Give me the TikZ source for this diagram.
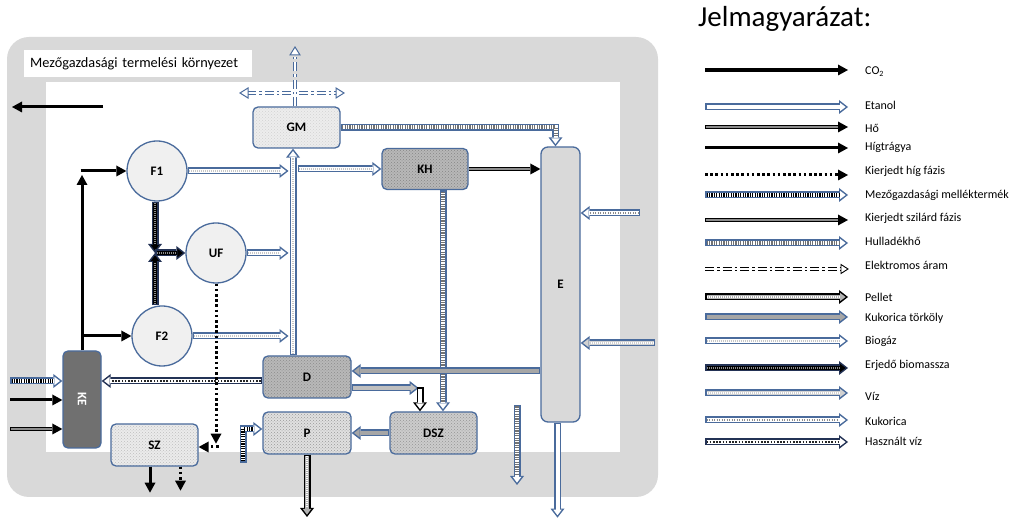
\documentclass[tikz,border=0pt]{standalone}
\usepackage{fontspec}
\usepackage{graphicx}
\setmainfont{Carlito}
\usetikzlibrary{arrows.meta,patterns,calc}
\definecolor{bl}{RGB}{74,107,156}
\definecolor{frm}{RGB}{217,217,217}
\definecolor{navy}{RGB}{35,50,85}
\tikzset{
 pipeO/.style={line width=7pt, draw=#1, -{Triangle[length=9pt,width=14pt,line width=0pt]}},
 pipeI/.style={line width=4pt, draw=#1, shorten <=1.5pt, shorten >=2.4pt, -{Triangle[length=5.6pt,width=8.5pt,line width=0pt]}},
 pipeS/.style={line width=4pt, shorten <=1.5pt, shorten >=9pt},
 sK/.style={draw=black, dash pattern=on 1.2pt off 1.2pt},
 sG/.style={draw=black!55, dash pattern=on 1.2pt off 1.2pt},
 sL/.style={draw=black!22, dash pattern=on 0.8pt off 1.2pt, line width=2.4pt},
 sC/.style={draw=black!85, dash pattern=on 1.6pt off 1.6pt, line width=2.6pt},
 sX/.style={draw=black!45, dash pattern=on 1pt off 1.5pt, line width=2.4pt},
 sE/.style={draw=black!45, dash pattern=on 1pt off 1pt, line width=2pt},
 sP/.style={draw=white, dash pattern=on 0.8pt off 1.2pt, line width=1.5pt},
 sW/.style={draw=white, dash pattern=on 1pt off 1pt, line width=1.2pt},
 sN/.style={draw=none},
 blk/.style={line width=3pt, draw=black, -{Triangle[length=10pt,width=11pt,line width=0pt]}},
 dblk/.style={blk, dash pattern=on 2.6pt off 2.6pt},
 elec/.style={draw=#1, line width=1.1pt, double=white, double distance=2.4pt, dash pattern=on 9pt off 3pt on 2.5pt off 3pt},
 box/.style={draw=bl, line width=1.3pt, rounded corners=5pt, inner sep=0pt, font=\bfseries\fontsize{13}{15}\selectfont},
 circ/.style={circle, draw=bl, line width=1.3pt, fill=black!6, minimum size=60pt, inner sep=0pt, font=\bfseries\fontsize{13}{15}\selectfont},
 leg/.style={anchor=west, inner sep=0pt, font=\fontsize{12}{14}\selectfont},
}
\newcommand\pipe[4]{\draw[pipeO=#1] #4; \draw[pipeI=#2] #4; \draw[pipeS,#3] #4;}
\newcommand\hoarr[1]{\draw[blk,line width=4.5pt] #1; \draw[line width=1.4pt, draw=black!45, shorten <=0.5pt, shorten >=10pt] #1;}
\newcommand\legcoords[2]{\coordinate (La#1) at (705,#2); \coordinate (Lb#1) at (848,#2);}
\begin{document}
\begin{tikzpicture}[x=1pt,y=-1pt]
\useasboundingbox (0,0) rectangle (1018,518);
% frame
\fill[frm, rounded corners=22pt] (7,37) rectangle (658,497);
\fill[white] (46,82) rectangle (620,452);
\node[fill=white, anchor=north west, minimum height=27pt, text width=216pt, inner xsep=6pt, font=\fontsize{14.3}{16}\selectfont] (envlabel) at (24,50) {Mezőgazdasági termelési környezet};

% nodes
\node[box, minimum width=87pt, minimum height=41pt, preaction={fill=black!7}, pattern=crosshatch dots, pattern color=black!18] (GM) at (296.5,127.5) {GM};
\node[box, minimum width=86pt, minimum height=41pt, preaction={fill=black!28}, pattern=crosshatch dots, pattern color=black!48] (KH) at (425,169) {KH};
\node[box, rounded corners=7pt, fill=frm, minimum width=39pt, minimum height=275pt] (E) at (560.5,284.5) {E};
\node[circ] (F1) at (157,171) {F1};
\node[circ] (UF) at (216,253) {UF};
\node[circ] (F2) at (162,336) {F2};
\node[box, fill=black!56, text=white, minimum width=38pt, minimum height=97pt] (KE) at (82,399.5) {\rotatebox{-90}{KE}};
\node[box, minimum width=88pt, minimum height=42pt, preaction={fill=black!28}, pattern=crosshatch dots, pattern color=black!45] (D) at (307,377) {D};
\node[box, minimum width=88pt, minimum height=42pt, preaction={fill=black!12}, pattern=crosshatch dots, pattern color=black!40] (P) at (307,433) {P};
\node[box, minimum width=87pt, minimum height=42pt, preaction={fill=black!20}, pattern=crosshatch dots, pattern color=black!42] (DSZ) at (433.5,433) {DSZ};
\node[box, minimum width=87pt, minimum height=42pt, preaction={fill=black!8}, pattern=crosshatch dots, pattern color=black!25] (SZ) at (154.5,445) {SZ};

% helper coordinates
\coordinate (pL) at (288.5,0);
\coordinate (pR) at (297.5,0);
\coordinate (jn) at (155,253);
\coordinate (co0) at (103,107);
\coordinate (co1) at (12,107);
\coordinate (kin) at (640,213);
\coordinate (vin) at (655,343);
\coordinate (m0) at (10,381);
\coordinate (h0) at (10,400);
\coordinate (k0) at (10,429);
\coordinate (pl0) at (243,463);
\coordinate (hf0) at (517,405);
\coordinate (hf1) at (517,485);
\coordinate (pbot) at (307,517);

% CO2 out
\draw[blk] (co0) -- (co1);

% Higtragya from KE
\draw[blk] (KE.north) -- ($(KE.north |- F1.west)+(0,4)$);
\draw[blk] ($(KE.north |- F1.west)+(-1.5,0)$) -- (F1.west);
\draw[blk] (KE.north |- F2.west) -- (F2.west);

% Erjedo biomassza
\pipe{navy}{black}{sE}{(F1.south -| jn) -- (jn)}
\pipe{navy}{black}{sE}{(jn |- F2.north) -- (jn)}
\pipe{navy}{black}{sE}{(jn) -- (UF.west)}

% biogas / ethanol lines to the vertical pipe
\pipe{bl}{white}{sL}{(F1.east) -- (F1.east -| pL)}
\pipe{bl}{white}{sL}{(KH.west -| pR) -- (KH.west)}
\pipe{bl}{white}{sL}{(UF.east) -- (UF.east -| pL)}
\pipe{bl}{white}{sL}{(F2.east) -- (F2.east -| pL)}
\pipe{bl}{white}{sL}{($(D.north)+(-14,0)$) -- ($(GM.south)+(-3.5,0)$)}

% electricity from GM
\draw[elec=bl] ($(GM.north)+(-1.5,0)$) -- (295,54);
\draw[bl, line width=1pt, fill=white] (290,55) -- (295,47) -- (300,55) -- cycle;
\draw[elec=bl] (291,93) -- (248,93);
\draw[bl, line width=1pt, fill=white] (248,88) -- (240,93) -- (248,98) -- cycle;
\draw[elec=bl] (299,93) -- (336,93);
\draw[bl, line width=1pt, fill=white] (336,88) -- (344,93) -- (336,98) -- cycle;

% waste heat GM -> E
\pipe{bl}{white}{sG}{(GM.east) -| ($(E.north)+(-5,0)$)}
% heat KH -> E
\hoarr{(KH.east) -- (KH.east -| E.west)}
% waste heat KH -> DSZ
\pipe{bl}{white}{sG}{($(KH.south)+(18,0)$) -- ($(DSZ.north)+(9.5,0)$)}
% maize into E
\pipe{bl}{white}{sX}{(kin) -- (kin -| E.east)}
% water into E
\pipe{bl}{black!18}{sW}{(vin) -- (vin -| E.east)}
% E -> D
\pipe{bl}{black!35}{sN}{($(E.west |- D.east)+(0,-6)$) -- ($(D.east)+(0,-6)$)}
% D -> DSZ
\pipe{bl}{black!25}{sN}{($(D.east)+(0,11)$) -- ($(D.east)+(67,11)$)}
\pipe{black}{white}{sN}{($(DSZ.north)+(-13.5,-24)$) -- ($(DSZ.north)+(-13.5,0)$)}
% DSZ -> P
\pipe{bl}{black!35}{sN}{(DSZ.west) -- (P.east)}
% P -> out (pellet)
\pipe{black}{black!30}{sP}{(P.south) -- (pbot)}
% by-product into P
\pipe{bl}{white}{sK}{(pl0) |- ($(P.west)+(0,-4)$)}
% used water D -> KE
\pipe{navy}{white}{sC}{($(D.west)+(0,4)$) -- ($(D.west -| KE.east)+(0,4)$)}
% inputs to KE
\pipe{bl}{white}{sK}{(m0) -- (m0 -| KE.west)}
\draw[blk] (h0) -- (h0 -| KE.west);
\hoarr{(k0) -- (k0 -| KE.west)}
% UF dilute phase
\draw[dblk] (UF.south) -- ($(UF.south)+(0,160)$);
\draw[dblk] ($(SZ.east)+(20,2)$) -- ($(SZ.east)+(0,2)$);
% SZ outputs
\draw[blk] ($(SZ.south)+(-4.5,0)$) -- ++(0,26);
\draw[dblk, line width=2.2pt] ($(SZ.south)+(26,0)$) -- ++(0,24);
% free waste heat
\pipe{bl}{white}{sG}{(hf0) -- (hf1)}
% ethanol out of E
\pipe{bl}{white}{sN}{($(E.south)+(-3,0)$) -- ($(E.south)+(-3,95)$)}

% legend
\node[anchor=base west, inner sep=0pt, font=\fontsize{29}{34}\selectfont] (title) at (698,27) {Jelmagyarázat:};
\legcoords{1}{70}
\legcoords{2}{107}
\legcoords{3}{127}
\legcoords{4}{148}
\legcoords{5}{175}
\legcoords{6}{195}
\legcoords{7}{220}
\legcoords{8}{243}
\legcoords{9}{269}
\legcoords{10}{297}
\legcoords{11}{317}
\legcoords{12}{341}
\legcoords{13}{368}
\legcoords{14}{393}
\legcoords{15}{420}
\legcoords{16}{442}
\draw[blk, line width=3.5pt] (La1) -- (Lb1);
\pipe{bl}{white}{sN}{(La2) -- (Lb2)}
\hoarr{(La3) -- (Lb3)}
\draw[blk] (La4) -- (Lb4);
\draw[dblk] (La5) -- (Lb5);
\pipe{bl}{white}{sK}{(La6) -- (Lb6)}
\hoarr{(La7) -- (Lb7)}
\pipe{bl}{white}{sG}{(La8) -- (Lb8)}
\draw[elec=black] (La9) -- ($(Lb9)+(-6,0)$);
\draw[black, line width=0.9pt, fill=white] ($(Lb9)+(-7,-4.5)$) -- (Lb9) -- ($(Lb9)+(-7,4.5)$) -- cycle;
\pipe{black}{black!30}{sP}{(La10) -- (Lb10)}
\pipe{bl}{black!35}{sN}{(La11) -- (Lb11)}
\pipe{bl}{white}{sL}{(La12) -- (Lb12)}
\pipe{navy}{black}{sE}{(La13) -- (Lb13)}
\pipe{bl}{black!18}{sW}{(La14) -- (Lb14)}
\pipe{bl}{white}{sX}{(La15) -- (Lb15)}
\pipe{navy}{white}{sC}{(La16) -- (Lb16)}
\node[leg] (t1) at (865,72) {CO\textsubscript{2}};
\node[leg] (t2) at (865,105) {Etanol};
\node[leg] (t3) at (865,128) {Hő};
\node[leg] (t4) at (865,147) {Hígtrágya};
\node[leg] (t5) at (865,171) {Kierjedt híg fázis};
\node[leg] (t6) at (865,195) {Mezőgazdasági melléktermék};
\node[leg] (t7) at (865,218) {Kierjedt szilárd fázis};
\node[leg] (t8) at (865,241) {Hulladékhő};
\node[leg] (t9) at (865,265) {Elektromos áram};
\node[leg] (t10) at (865,297) {Pellet};
\node[leg] (t11) at (865,318) {Kukorica törköly};
\node[leg] (t12) at (865,341) {Biogáz};
\node[leg] (t13) at (865,365) {Erjedő biomassza};
\node[leg] (t14) at (865,396) {Víz};
\node[leg] (t15) at (865,421) {Kukorica};
\node[leg] (t16) at (865,441) {Használt víz};
\end{tikzpicture}
\end{document}
